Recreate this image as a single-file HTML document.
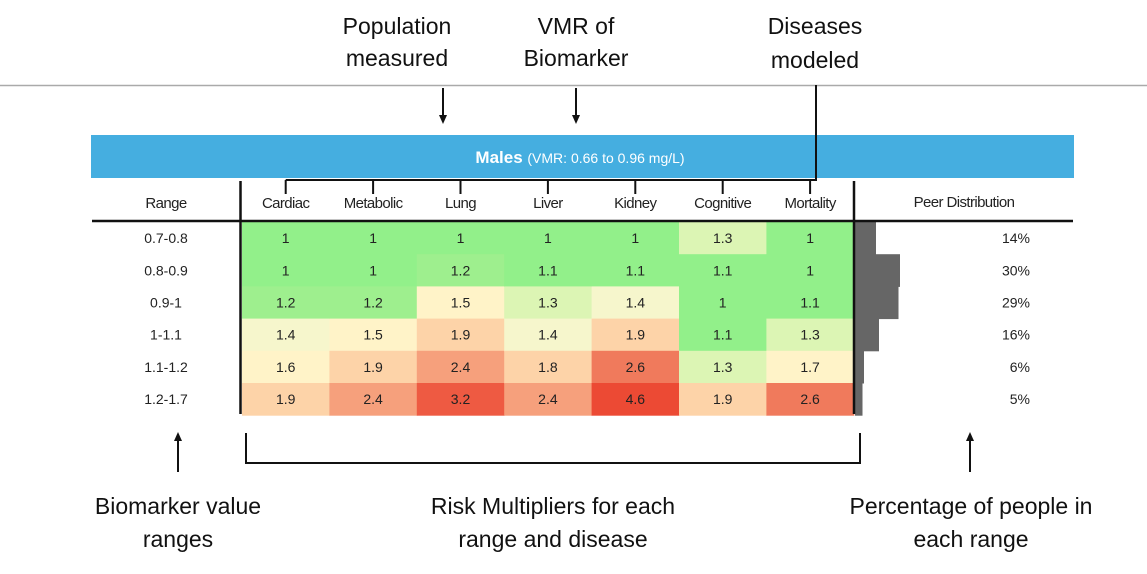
<!DOCTYPE html>
<html><head><meta charset="utf-8"><style>
html,body{margin:0;padding:0;background:#fff;width:1147px;height:574px;overflow:hidden}
svg{display:block}
text{font-family:"Liberation Sans",sans-serif}
.ann{font-size:23px;fill:#111}
.hd{font-size:15px;fill:#222;letter-spacing:-0.6px}
.cell{font-size:14px;fill:#222}
</style></head><body>
<svg id="chart" width="1147" height="574" viewBox="0 0 1147 574">
<defs><marker id="ah" markerWidth="10" markerHeight="10" refX="5" refY="5" orient="auto" markerUnits="userSpaceOnUse"><path d="M0,1 L9,5 L0,9 z" fill="#111"/></marker></defs>
<line x1="0" y1="85.5" x2="1147" y2="85.5" stroke="#aaa" stroke-width="1.5"/>
<g>
<text class="ann" x="397" y="34" text-anchor="middle">Population</text>
<text class="ann" x="397" y="66" text-anchor="middle">measured</text>
<text class="ann" x="576" y="34" text-anchor="middle">VMR of</text>
<text class="ann" x="576" y="66" text-anchor="middle">Biomarker</text>
<text class="ann" x="815" y="34" text-anchor="middle">Diseases</text>
<text class="ann" x="815" y="68" text-anchor="middle">modeled</text>
<line x1="443" y1="88" x2="443" y2="120" stroke="#111" stroke-width="2" marker-end="url(#ah)"/>
<line x1="576" y1="88" x2="576" y2="120" stroke="#111" stroke-width="2" marker-end="url(#ah)"/>
</g>
<rect x="91" y="135" width="983" height="43" fill="#45aee0"/>
<text x="580" y="163" text-anchor="middle" style="font-size:17px;fill:#fff;font-weight:bold">Males <tspan style="font-weight:normal;font-size:14px">(VMR: 0.66 to 0.96 mg/L)</tspan></text>
<g id="grid"></g>
<g>
<polyline points="246,433 246,463 860,463 860,433" fill="none" stroke="#111" stroke-width="2"/>
<line x1="178" y1="472" x2="178" y2="436" stroke="#111" stroke-width="2" marker-end="url(#ah)"/>
<line x1="970" y1="472" x2="970" y2="436" stroke="#111" stroke-width="2" marker-end="url(#ah)"/>
<text class="ann" x="178" y="514" text-anchor="middle">Biomarker value</text>
<text class="ann" x="178" y="547" text-anchor="middle">ranges</text>
<text class="ann" x="553" y="514" text-anchor="middle">Risk Multipliers for each</text>
<text class="ann" x="553" y="547" text-anchor="middle">range and disease</text>
<text class="ann" x="971" y="514" text-anchor="middle">Percentage of people in</text>
<text class="ann" x="971" y="547" text-anchor="middle">each range</text>
</g>
</svg>
<script>
const diseases=["Cardiac","Metabolic","Lung","Liver","Kidney","Cognitive","Mortality"];
const ranges=["0.7-0.8","0.8-0.9","0.9-1","1-1.1","1.1-1.2","1.2-1.7"];
const cardiac=[1,1,1.2,1.4,1.6,1.9];
const metabolic=[1,1,1.2,1.5,1.9,2.4];
const lung=[1,1.2,1.5,1.9,2.4,3.2];
const liver=[1,1.1,1.3,1.4,1.8,2.4];
const kidney=[1,1.1,1.4,1.9,2.6,4.6];
const cognitive=[1.3,1.1,1,1.1,1.3,1.9];
const mortality=[1,1,1.1,1.3,1.7,2.6];
const peer=[14,30,29,16,6,5];
const series=[cardiac,metabolic,lung,liver,kidney,cognitive,mortality];
const NS="http://www.w3.org/2000/svg";
const g=document.getElementById('grid');
const x0=242,cw=87.4,y0=222,rh=32.2;
function colX(i){return x0+i*cw;}
function rowY(j){return y0+j*rh;}
function barW(p){return p*1.5;}
function color(v){
 if(v<=1.1)return"#92f08a";
 if(v<=1.2)return"#9eef8e";
 if(v<=1.3)return"#dcf5b4";
 if(v<=1.4)return"#f6f6cc";
 if(v<=1.7)return"#fff3c8";
 if(v<=1.9)return"#fdd3a8";
 if(v<=2.4)return"#f6a07c";
 if(v<=2.6)return"#f07a5c";
 if(v<=3.2)return"#ee5a42";
 return"#ec4a34";
}
function mk(tag,attrs,txt){const e=document.createElementNS(NS,tag);for(const k in attrs)e.setAttribute(k,attrs[k]);if(txt!=null)e.textContent=txt;g.appendChild(e);return e;}
let h=mk('text',{x:166,y:208,'text-anchor':'middle',class:'hd'},'Range');


h=mk('text',{x:964,y:207,'text-anchor':'middle',class:'hd'},'Peer Distribution');


diseases.forEach((d,i)=>{
 const t=mk('text',{x:colX(i)+cw/2,y:208,'text-anchor':'middle',class:'hd'},d);
 
 
});
series.forEach((s,i)=>{
 s.forEach((v,j)=>{
  const r=mk('rect',{x:colX(i),y:rowY(j),width:cw+0.5,height:rh+0.5,fill:color(v)});
  
  
  const t=mk('text',{x:colX(i)+cw/2,y:rowY(j)+rh/2+5,'text-anchor':'middle',class:'cell'},String(v));
  
  
 });
});
ranges.forEach((r,j)=>{
 const t=mk('text',{x:166,y:rowY(j)+rh/2+5,'text-anchor':'middle',class:'cell'},r);
 
 
});
peer.forEach((p,j)=>{
 const b=mk('rect',{x:855,y:rowY(j),width:barW(p),height:rh+0.5,fill:'#666'});
 
 
 const t=mk('text',{x:1030,y:rowY(j)+rh/2+5,'text-anchor':'end',class:'cell'},p+'%');
 
 
});
let l=mk('line',{x1:92,y1:221,x2:1073,y2:221,stroke:'#111','stroke-width':2.5});


l=mk('line',{x1:240.5,y1:181,x2:240.5,y2:414,stroke:'#111','stroke-width':2.5});


l=mk('line',{x1:854,y1:181,x2:854,y2:414,stroke:'#111','stroke-width':2.5});


l=mk('polyline',{points:'816,85 816,180 '+(colX(0)+cw/2)+',180',fill:'none',stroke:'#111','stroke-width':2});


diseases.forEach((d,i)=>{
 const tk=mk('line',{x1:colX(i)+cw/2,y1:180,x2:colX(i)+cw/2,y2:194,stroke:'#111','stroke-width':2});
 
 
});
</script>
</body></html>
